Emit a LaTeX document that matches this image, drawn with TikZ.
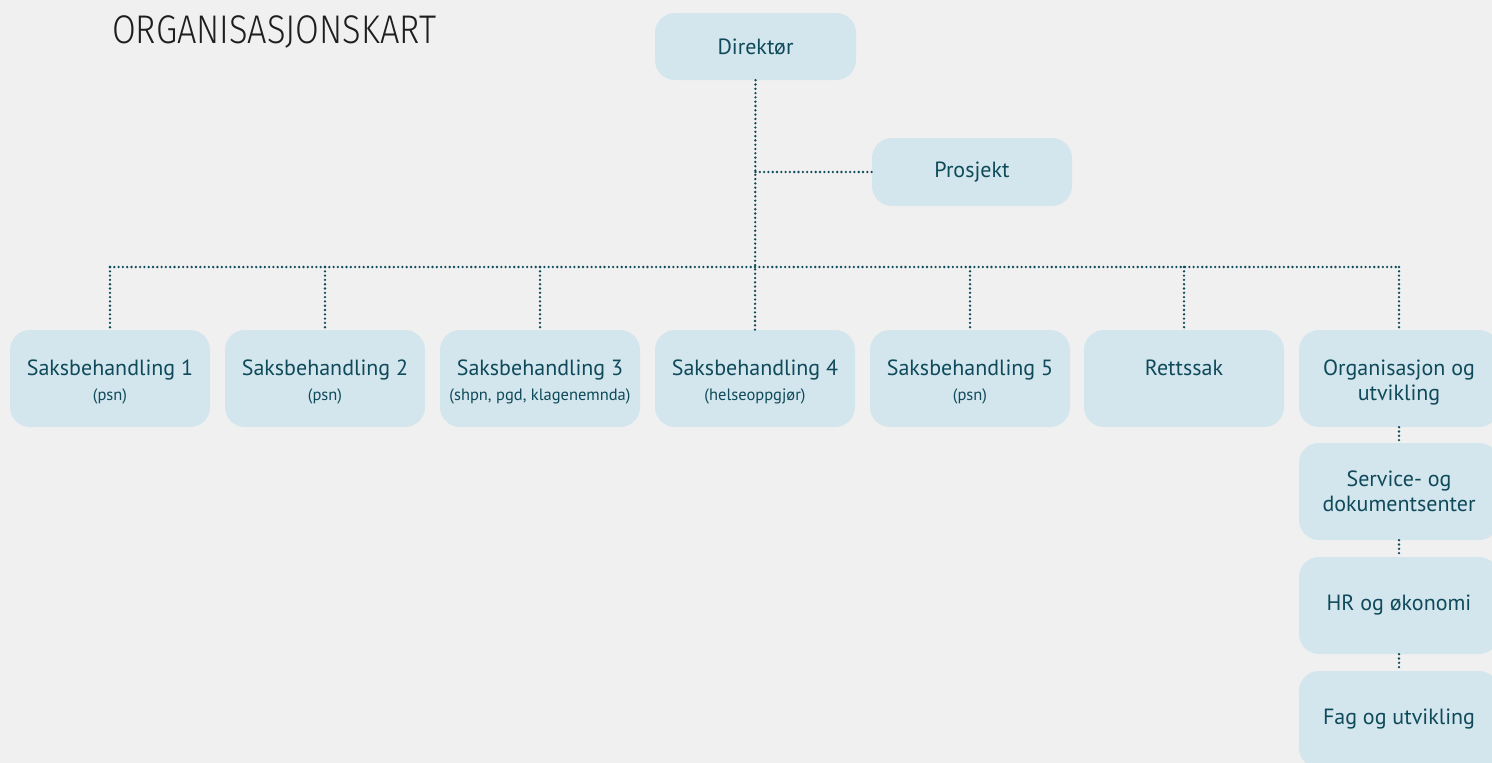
\documentclass[tikz,border=0pt]{standalone}
\usepackage{fontspec}
\setmainfont{PT Sans}
\newfontfamily\titlefont{Fira Sans Light}[FakeStretch=0.86]
\definecolor{bg}{HTML}{F0F0F0}
\definecolor{boxfill}{HTML}{D3E5ED}
\definecolor{ink}{HTML}{0E4A5A}
\definecolor{titleink}{HTML}{1E1E1E}
\newcommand{\rowtext}[2]{\parbox[c][97pt][t]{200pt}{\centering\fontsize{22}{25}\selectfont\rule{0pt}{45pt}#1\ifx\relax#2\relax\else\\{\fontsize{16.5}{18}\selectfont #2}\fi}}
\begin{document}
\begin{tikzpicture}[x=1pt,y=-1pt,
  box/.style={fill=boxfill, rounded corners=20pt, minimum width=200pt, minimum height=97pt, text=ink, inner sep=0pt, align=center, font=\fontsize{22}{24.5}\selectfont},
  rowbox/.style={box},
  conn/.style={draw=ink, line width=2.6pt, dash pattern=on 0pt off 4.3pt, line cap=round}]
\fill[bg] (0,0) rectangle (1492,763);
\useasboundingbox (0,0) rectangle (1492,763);
\node[anchor=base west, inner sep=0pt, text=titleink, font=\titlefont\fontsize{40}{42}\selectfont] (title) at (112,43) {ORGANISASJONSKART};
\node[box, minimum width=201pt, minimum height=67pt] (dir) at (755.5,46.5) {Direktør};
\node[box, minimum height=68pt] (proj) at (972,172) {Prosjekt};
\node[rowbox] (sak1) at (110,378.5) {\rowtext{Saksbehandling 1}{(psn)}};
\node[rowbox] (sak2) at (325,378.5) {\rowtext{Saksbehandling 2}{(psn)}};
\node[rowbox] (sak3) at (540,378.5) {\rowtext{Saksbehandling 3}{(shpn, pgd, klagenemnda)}};
\node[rowbox] (sak4) at (755,378.5) {\rowtext{Saksbehandling 4}{(helseoppgjør)}};
\node[rowbox] (sak5) at (970,378.5) {\rowtext{Saksbehandling 5}{(psn)}};
\node[rowbox] (rett) at (1184,378.5) {\rowtext{Rettssak}{}};
\node[rowbox] (org) at (1399,378.5) {\rowtext{Organisasjon og\\utvikling}{}};
\node[box] (svc) at (1399,491.5) {Service- og\\dokumentsenter};
\node[box] (hr) at (1399,605.5) {HR og økonomi};
\node[box] (fag) at (1399,719.5) {Fag og utvikling};
\coordinate (bus) at (755,267);
\draw[conn] (dir.south) -- (sak4.north);
\draw[conn] (dir.south |- proj.west) -- (proj.west);
\draw[conn] (sak1.north |- bus) -- (org.north |- bus);
\foreach \n in {sak1,sak2,sak3,sak5,rett,org}{
  \draw[conn] (\n.north |- bus) -- (\n.north);
}
\draw[conn] (org.south) -- (svc.north);
\draw[conn] (svc.south) -- (hr.north);
\draw[conn] (hr.south) -- (fag.north);
\end{tikzpicture}
\end{document}
